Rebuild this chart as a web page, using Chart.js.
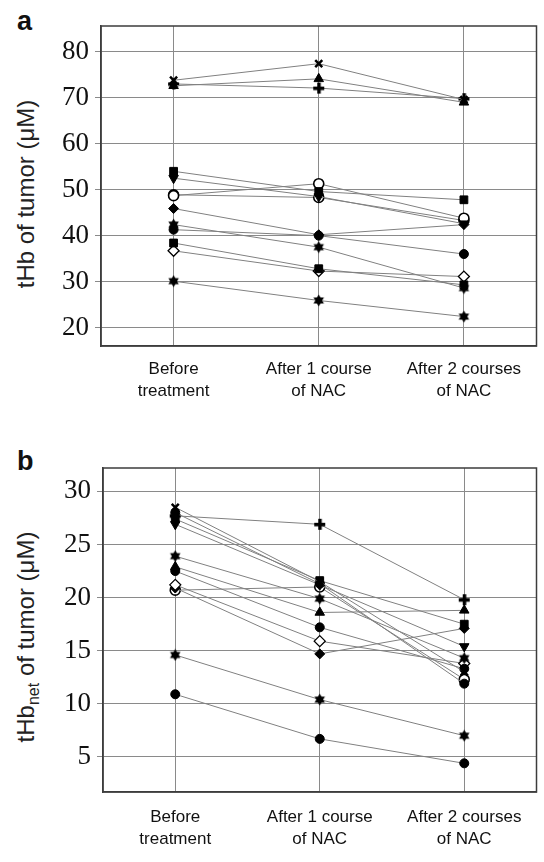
<!DOCTYPE html>
<html>
<head>
<meta charset="utf-8">
<script src="https://cdn.jsdelivr.net/npm/chart.js@4.4.0/dist/chart.umd.min.js"></script>
<style>
body { margin: 0; background: #fff; width: 544px; height: 862px; position: relative; overflow: hidden; font-family: "Liberation Sans", Arial, sans-serif; color: #111; }
canvas { position: absolute; left: 0; }
#chartA { top: 0; }
#chartB { top: 440px; }
.panel { position: absolute; font-weight: bold; font-size: 27px; line-height: 1; }
.ytitle { position: absolute; transform: translate(-50%, -50%) rotate(-90deg); white-space: nowrap; font-size: 24px; color: #222; }
.ytitle sub { font-size: 16px; vertical-align: -5px; line-height: 0; }
</style>
</head>
<body>
<div class="panel" style="left:17px; top:8px;">a</div>
<div class="ytitle" style="left:26px; top:194px;">tHb of tumor (μM)</div>
<canvas id="chartA" width="544" height="430"></canvas>

<div class="panel" style="left:17px; top:448px;">b</div>
<div class="ytitle" style="left:26px; top:637px;">tHb<sub>net</sub> of tumor (μM)</div>
<canvas id="chartB" width="544" height="422"></canvas>

<script>
const categories = [['Before', 'treatment'], ['After 1 course', 'of NAC'], ['After 2 courses', 'of NAC']];
const yTicksA = [20, 30, 40, 50, 60, 70, 80];
const yTicksB = [5, 10, 15, 20, 25, 30];

// panel a: tHb, one array per patient
const aCross = [73.8, 77.4, 69.6];
const aTri = [72.6, 74.1, 69.0];
const aPlus = [73.0, 72.1, 69.8];
const aSquare = [54.0, 49.6, 47.8];
const aDown = [52.5, 48.5, 42.6];
const aOpenCircle = [48.7, 51.3, 43.8];
const aOpenCircle2 = [48.9, 48.3, 43.3];
const aDiamond = [45.9, 40.2, 42.4];
const aCircle = [41.3, 40.0, 36.0];
const aStar = [42.4, 37.5, 28.6];
const aSquare2 = [38.4, 32.8, 29.3];
const aOpenDiamond = [36.7, 32.3, 31.1];
const aStar2 = [30.1, 25.9, 22.4];

// panel b: tHb net
const bCross = [28.5, 21.5, 13.0];
const bCircleTop = [28.0, 21.3, 11.9];
const bPlus = [27.7, 26.9, 19.8];
const bSquare = [27.4, 21.6, 17.5];
const bDown = [26.9, 21.2, 15.4];
const bStar = [23.9, 19.9, 14.3];
const bTri = [22.9, 18.6, 18.8];
const bCircle = [22.5, 17.2, 13.3];
const bOpenDiamond = [21.2, 15.9, 13.8];
const bDiamond = [20.9, 14.7, 17.1];
const bOpenCircle = [20.7, 21.0, 12.3];
const bStar2 = [14.6, 10.4, 7.0];
const bCircleLow = [10.9, 6.7, 4.4];

// little canvas glyphs for markers chart.js doesn't have
function glyph(draw) {
    const c = document.createElement('canvas');
    c.width = 13;
    c.height = 13;
    const g = c.getContext('2d');
    g.fillStyle = '#000';
    draw(g);
    return c;
}
function triangle(g, r, rot) {
    g.beginPath();
    for (let i = 0; i < 3; i++) {
        const t = rot + i * 2 * Math.PI / 3;
        g.lineTo(6.5 + r * Math.sin(t), 6.5 - r * Math.cos(t));
    }
    g.closePath();
    g.fill();
}
const starGlyph = glyph(g => { triangle(g, 6, 0); triangle(g, 6, Math.PI); });
const plusGlyph = glyph(g => { g.fillRect(5, 1, 3.5, 11); g.fillRect(1, 5, 11, 3.5); });

const markers = {
    cross: { pointStyle: 'crossRot', pointRadius: 5, pointBorderWidth: 2.5 },
    tri: { pointStyle: 'triangle', pointRadius: 5.5 },
    down: { pointStyle: 'triangle', pointRotation: 180, pointRadius: 5.5 },
    square: { pointStyle: 'rect', pointRadius: 5.5 },
    diamond: { pointStyle: 'rectRot', pointRadius: 5 },
    openDiamond: { pointStyle: 'rectRot', pointRadius: 5.5, pointBackgroundColor: '#fff', pointBorderWidth: 1.3 },
    circle: { pointStyle: 'circle', pointRadius: 4.5 },
    openCircle: { pointStyle: 'circle', pointRadius: 5, pointBackgroundColor: '#fff', pointBorderWidth: 1.6 },
    plus: { pointStyle: plusGlyph },
    star: { pointStyle: starGlyph }
};

function series(data, marker) {
    return Object.assign({
        data: data,
        borderColor: '#808080',
        borderWidth: 1,
        pointBackgroundColor: '#000',
        pointBorderColor: '#000',
        pointBorderWidth: 1,
        tension: 0
    }, markers[marker]);
}

const boxPlugin = {
    id: 'box',
    beforeDatasetsDraw(chart) {
        const { ctx, chartArea: a } = chart;
        ctx.save();
        ctx.strokeStyle = '#3c3c3c';
        ctx.lineWidth = 1.5;
        ctx.strokeRect(a.left, a.top, a.right - a.left, a.bottom - a.top);
        ctx.restore();
    }
};

function makeOptions(ticks, min, max, yWidth, xHeight, pad, labelPad) {
    return {
        responsive: false,
        animation: false,
        layout: { padding: pad },
        plugins: { legend: { display: false }, tooltip: { enabled: false } },
        scales: {
            x: {
                offset: true,
                grid: { offset: false, color: '#8a8a8a', drawTicks: false },
                border: { color: '#3c3c3c', width: 1.5 },
                ticks: {
                    color: '#111', padding: labelPad, maxRotation: 0, autoSkip: false,
                    font: { family: '"Liberation Sans", Arial, sans-serif', size: 17, lineHeight: 1.3 }
                },
                afterFit: s => { s.height = xHeight; }
            },
            y: {
                min: min,
                max: max,
                afterBuildTicks: s => { s.ticks = ticks.map(v => ({ value: v })); },
                grid: { color: '#8a8a8a', tickLength: 6 },
                border: { color: '#3c3c3c', width: 1.5 },
                ticks: {
                    color: '#111', padding: 6,
                    font: { family: '"Liberation Serif", "Times New Roman", serif', size: 27 }
                },
                afterFit: s => { s.width = yWidth; }
            }
        }
    };
}

new Chart(document.getElementById('chartA'), {
    type: 'line',
    data: {
        labels: categories,
        datasets: [
            series(aCross, 'cross'), series(aTri, 'tri'), series(aPlus, 'plus'),
            series(aSquare, 'square'), series(aDown, 'down'), series(aOpenCircle, 'openCircle'),
            series(aOpenCircle2, 'openCircle'), series(aDiamond, 'diamond'), series(aCircle, 'circle'),
            series(aStar, 'star'), series(aSquare2, 'square'), series(aOpenDiamond, 'openDiamond'),
            series(aStar2, 'star')
        ]
    },
    options: makeOptions(yTicksA, 16, 85.6, 101, 84, { top: 26, right: 6, left: 0, bottom: 0 }, 12),
    plugins: [boxPlugin]
});

new Chart(document.getElementById('chartB'), {
    type: 'line',
    data: {
        labels: categories,
        datasets: [
            series(bCross, 'cross'), series(bCircleTop, 'circle'), series(bPlus, 'plus'),
            series(bSquare, 'square'), series(bDown, 'down'), series(bStar, 'star'),
            series(bTri, 'tri'), series(bCircle, 'circle'), series(bOpenDiamond, 'openDiamond'),
            series(bDiamond, 'diamond'), series(bOpenCircle, 'openCircle'), series(bStar2, 'star'),
            series(bCircleLow, 'circle')
        ]
    },
    options: makeOptions(yTicksB, 1.7, 32.2, 103, 70, { top: 28, right: 0, left: 0, bottom: 0 }, 14),
    plugins: [boxPlugin]
});
</script>
</body>
</html>
